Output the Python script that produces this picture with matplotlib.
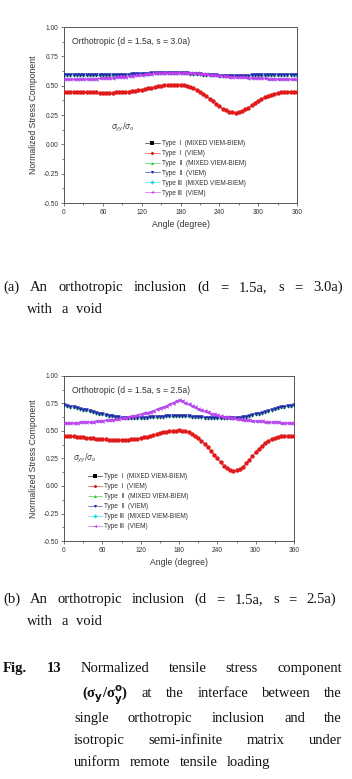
import numpy as np
import matplotlib.pyplot as plt

plt.rcParams['font.family'] = ['Liberation Sans', 'DejaVu Sans']

angle = list(range(0, 365, 5))

# (a) d = 1.5a, s = 3.0a
a_type1 = [0.450, 0.450, 0.450, 0.448, 0.447, 0.446, 0.445, 0.444, 0.443, 0.442,
           0.442, 0.441, 0.441, 0.441, 0.441, 0.441, 0.442, 0.443, 0.444, 0.446,
           0.449, 0.452, 0.456, 0.461, 0.466, 0.471, 0.477, 0.483, 0.489, 0.494,
           0.499, 0.503, 0.506, 0.508, 0.509, 0.509, 0.508, 0.505, 0.500, 0.492,
           0.481, 0.467, 0.450, 0.431, 0.410, 0.388, 0.366, 0.344, 0.323, 0.304,
           0.289, 0.278, 0.272, 0.271, 0.275, 0.284, 0.297, 0.313, 0.331, 0.350,
           0.368, 0.385, 0.400, 0.413, 0.424, 0.432, 0.439, 0.444, 0.447, 0.449,
           0.450, 0.450, 0.450]
a_type2 = [0.592, 0.592, 0.591, 0.591, 0.590, 0.589, 0.589, 0.588, 0.588, 0.588,
           0.588, 0.588, 0.588, 0.589, 0.589, 0.590, 0.591, 0.592, 0.593, 0.594,
           0.595, 0.597, 0.598, 0.599, 0.601, 0.602, 0.603, 0.604, 0.605, 0.606,
           0.606, 0.607, 0.607, 0.607, 0.607, 0.606, 0.606, 0.605, 0.604, 0.602,
           0.601, 0.599, 0.597, 0.595, 0.593, 0.591, 0.589, 0.588, 0.586, 0.585,
           0.585, 0.584, 0.584, 0.584, 0.585, 0.585, 0.586, 0.586, 0.587, 0.588,
           0.588, 0.589, 0.589, 0.590, 0.590, 0.591, 0.591, 0.591, 0.592, 0.592,
           0.592, 0.592, 0.592]
a_type3 = [0.555, 0.555, 0.555, 0.556, 0.556, 0.557, 0.557, 0.558, 0.559, 0.560,
           0.561, 0.562, 0.564, 0.565, 0.567, 0.569, 0.571, 0.573, 0.576, 0.578,
           0.581, 0.584, 0.587, 0.590, 0.593, 0.596, 0.599, 0.602, 0.604, 0.606,
           0.608, 0.610, 0.611, 0.612, 0.612, 0.612, 0.612, 0.611, 0.610, 0.608,
           0.606, 0.604, 0.601, 0.599, 0.596, 0.593, 0.590, 0.588, 0.585, 0.583,
           0.580, 0.578, 0.576, 0.575, 0.573, 0.571, 0.570, 0.568, 0.567, 0.566,
           0.564, 0.563, 0.562, 0.561, 0.560, 0.559, 0.558, 0.557, 0.556, 0.556,
           0.555, 0.555, 0.555]

# (b) d = 1.5a, s = 2.5a
b_type1 = [0.455, 0.454, 0.452, 0.450, 0.448, 0.446, 0.443, 0.440, 0.437, 0.434,
           0.431, 0.428, 0.426, 0.424, 0.422, 0.421, 0.420, 0.420, 0.420, 0.421,
           0.422, 0.424, 0.427, 0.431, 0.436, 0.442, 0.449, 0.456, 0.464, 0.472,
           0.480, 0.487, 0.493, 0.498, 0.502, 0.504, 0.505, 0.503, 0.498, 0.489,
           0.476, 0.459, 0.438, 0.413, 0.385, 0.354, 0.320, 0.285, 0.250, 0.216,
           0.186, 0.162, 0.146, 0.139, 0.142, 0.155, 0.177, 0.205, 0.238, 0.273,
           0.308, 0.340, 0.368, 0.392, 0.411, 0.426, 0.437, 0.445, 0.450, 0.453,
           0.455, 0.455, 0.455]
b_type2 = [0.732, 0.728, 0.722, 0.716, 0.709, 0.702, 0.695, 0.687, 0.679, 0.672,
           0.664, 0.657, 0.650, 0.644, 0.638, 0.633, 0.629, 0.625, 0.622, 0.620,
           0.618, 0.617, 0.617, 0.617, 0.618, 0.619, 0.621, 0.623, 0.625, 0.627,
           0.629, 0.631, 0.632, 0.633, 0.634, 0.634, 0.634, 0.634, 0.633, 0.632,
           0.630, 0.628, 0.626, 0.624, 0.622, 0.620, 0.618, 0.617, 0.616, 0.615,
           0.615, 0.615, 0.616, 0.617, 0.619, 0.622, 0.626, 0.631, 0.637, 0.644,
           0.651, 0.659, 0.667, 0.676, 0.684, 0.693, 0.701, 0.708, 0.715, 0.721,
           0.726, 0.730, 0.732]
b_type3 = [0.574, 0.574, 0.575, 0.576, 0.577, 0.578, 0.580, 0.582, 0.584, 0.586,
           0.588, 0.591, 0.594, 0.597, 0.600, 0.604, 0.608, 0.612, 0.616, 0.621,
           0.626, 0.632, 0.638, 0.645, 0.652, 0.660, 0.668, 0.677, 0.686, 0.696,
           0.706, 0.717, 0.729, 0.742, 0.756, 0.770, 0.780, 0.772, 0.758, 0.744,
           0.730, 0.716, 0.703, 0.691, 0.680, 0.669, 0.659, 0.650, 0.642, 0.635,
           0.629, 0.624, 0.619, 0.615, 0.611, 0.607, 0.603, 0.600, 0.597, 0.594,
           0.591, 0.589, 0.587, 0.585, 0.583, 0.581, 0.580, 0.578, 0.577, 0.576,
           0.575, 0.574, 0.574]

labels = ['Type  Ⅰ  (MIXED VIEM-BIEM)', 'Type  Ⅰ  (VIEM)',
          'Type  Ⅱ  (MIXED VIEM-BIEM)', 'Type  Ⅱ  (VIEM)',
          'Type Ⅲ  (MIXED VIEM-BIEM)', 'Type Ⅲ  (VIEM)']
colors = ['black', '#e01a1a', '#22cc22', '#1a2aa8', '#22dddd', '#c93ef0']
markers = ['s', 'o', '^', 'v', 'D', '<']
# mixed results drawn first and smaller, VIEM results on top
zorders = [2, 4, 2, 4, 2, 4]
msizes = [1.8, 3.2, 2.0, 3.2, 1.8, 3.2]

W, H = 352, 779
fig = plt.figure(figsize=(W / 100, H / 100), dpi=100)


def px_box(l, t, r, b):
    return [l / W, 1 - b / H, (r - l) / W, (b - t) / H]


def panel(box, title, series, leg_anchor, sig_pos):
    ax = fig.add_axes(box)
    for s, c, m, lab, z, ms in zip(series, colors, markers, labels, zorders, msizes):
        ax.plot(angle, s, color=c, marker=m, markersize=ms, lw=0.3,
                markeredgewidth=0, label=lab, zorder=z)
    ax.set_xlim(0, 360)
    ax.set_ylim(-0.5, 1.0)
    ax.set_xticks(range(0, 361, 60))
    ax.set_xticks(range(30, 361, 60), minor=True)
    ax.set_yticks(np.arange(-0.5, 1.01, 0.25))
    ax.set_yticks(np.arange(-0.375, 1.0, 0.25), minor=True)
    ax.set_yticklabels(['-0.50', '-0.25', '0.00', '0.25', '0.50', '0.75', '1.00'])
    ax.tick_params(labelsize=4.8, length=2.5, width=0.5, colors='#444',
                   labelcolor='#333', pad=1.5)
    ax.tick_params(which='minor', length=1.5, width=0.5, colors='#444')
    for sp in ax.spines.values():
        sp.set_color('#555')
        sp.set_linewidth(0.7)
    ax.set_xlabel('Angle (degree)', fontsize=6.2, color='#333', labelpad=3)
    ax.set_ylabel('Normalized Stress Component', fontsize=6.2, color='#333',
                  labelpad=4)
    ax.text(0.035, 0.915, title, transform=ax.transAxes, fontsize=6.2,
            color='#333', va='center')
    ax.text(sig_pos[0], sig_pos[1], r'$\sigma_{yy}/\sigma_o$',
            transform=ax.transAxes, fontsize=5.5, color='#444', va='center')
    leg = ax.legend(loc='upper left', bbox_to_anchor=leg_anchor, frameon=False,
                    fontsize=4.7, handlelength=2.2, handletextpad=0.3,
                    labelspacing=0.45, borderpad=0, labelcolor='#333')
    for h in leg.legend_handles:
        h.set_linewidth(0.4)
        h.set_markersize(2.2)
    return ax


panel(px_box(64, 27, 297, 203), 'Orthotropic (d = 1.5a, s = 3.0a)',
      [a_type1, a_type1, a_type2, a_type2, a_type3, a_type3],
      (0.335, 0.377), (0.2, 0.43))
panel(px_box(64, 376, 294, 541), 'Orthotropic (d = 1.5a, s = 2.5a)',
      [b_type1, b_type1, b_type2, b_type2, b_type3, b_type3],
      (0.09, 0.43), (0.04, 0.5))

serif = ['Liberation Serif', 'DejaVu Serif']
renderer = fig.canvas.get_renderer()


def justify(words, x0, x1, y, weights=None, size=10.5):
    ts = []
    for i, w in enumerate(words):
        fw = weights[i] if weights else 'normal'
        ts.append(fig.text(0, 1 - y / H, w, fontsize=size, family=serif,
                           fontweight=fw, va='baseline', color='#111'))
    widths = [t.get_window_extent(renderer).width for t in ts]
    gap = (x1 - x0 - sum(widths)) / max(len(ts) - 1, 1)
    x = x0
    for t, w in zip(ts, widths):
        t.set_x(x / W)
        x += w + gap


cap1 = ['(a)', 'An', 'orthotropic', 'inclusion', '(d', '=', '1.5a,', 's', '=', '3.0a)']
cap2 = ['(b)', 'An', 'orthotropic', 'inclusion', '(d', '=', '1.5a,', 's', '=', '2.5a)']
justify(cap1, 3, 343, 291)
justify(['with', 'a', 'void'], 27, 102, 313)
justify(cap2, 3, 336, 603)
justify(['with', 'a', 'void'], 27, 102, 625)

justify(['Fig.', '13', 'Normalized', 'tensile', 'stress', 'component'], 3, 342, 672,
        weights=['bold', 'bold', 'normal', 'normal', 'normal', 'normal'])
justify([r'(σ$_\mathbf{y}$/σ$^\mathbf{o}_\mathbf{y}$)', 'at', 'the', 'interface',
         'between', 'the'], 82, 342, 697,
        weights=['bold', 'normal', 'normal', 'normal', 'normal', 'normal'])
justify(['single', 'orthotropic', 'inclusion', 'and', 'the'], 74, 342, 722)
justify(['isotropic', 'semi-infinite', 'matrix', 'under'], 74, 342, 744)
justify(['uniform', 'remote', 'tensile', 'loading'], 74, 270, 766)

fig.savefig('out.png', dpi=100)
